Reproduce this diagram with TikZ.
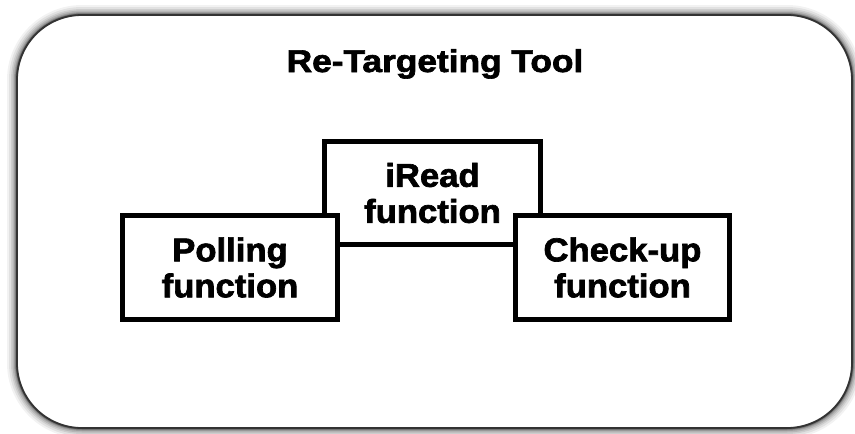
\documentclass[tikz,border=0pt]{standalone}
\usepackage{fontspec}
\setmainfont{Liberation Sans}
\newfontfamily\heavyfont{Liberation Sans Bold}[FakeBold=2]
\usepackage{graphicx}
\newcommand{\wideline}[2][1.05]{\scalebox{#1}[1]{#2}}
\begin{document}
\begin{tikzpicture}[x=1pt,y=-1pt,
  fnbox/.style={draw=black, line width=5pt, fill=white, rectangle,
    inner sep=0pt, align=center, miter limit=10,
    font=\heavyfont\fontsize{33}{36}\selectfont},
  frameline/.style={draw=black!80, line width=1.8pt, rounded corners=65pt}]
\useasboundingbox (0,0) rectangle (855,434);

% soft glow around the outer frame
\foreach \w/\o in {20/0.05,16/0.07,12/0.09,9/0.11,6/0.14,4/0.18,2.5/0.25}
  \draw[black, opacity=\o, line width=\w pt, rounded corners=65pt]
    (17,15) rectangle (852,428);
\fill[white, rounded corners=65pt] (17,15) rectangle (852,428);
\draw[frameline] (17,15) rectangle (852,428);

% title
\node[font=\heavyfont\fontsize{31.5}{36}\selectfont, anchor=base] (title)
  at (435,72) {\wideline[1.12]{Re-Targeting Tool}};

% function boxes (back to front)
\node[fnbox, minimum width=216pt, minimum height=103pt] (iread)
  at (432.5,193) {\wideline{iRead}\\\wideline{function}};
\node[fnbox, minimum width=215pt, minimum height=104pt] (polling)
  at (230,267.5) {\wideline{Polling}\\\wideline{function}};
\node[fnbox, minimum width=214pt, minimum height=104pt] (checkup)
  at (622.5,267.5) {\wideline{Check-up}\\\wideline{function}};
\end{tikzpicture}
\end{document}
